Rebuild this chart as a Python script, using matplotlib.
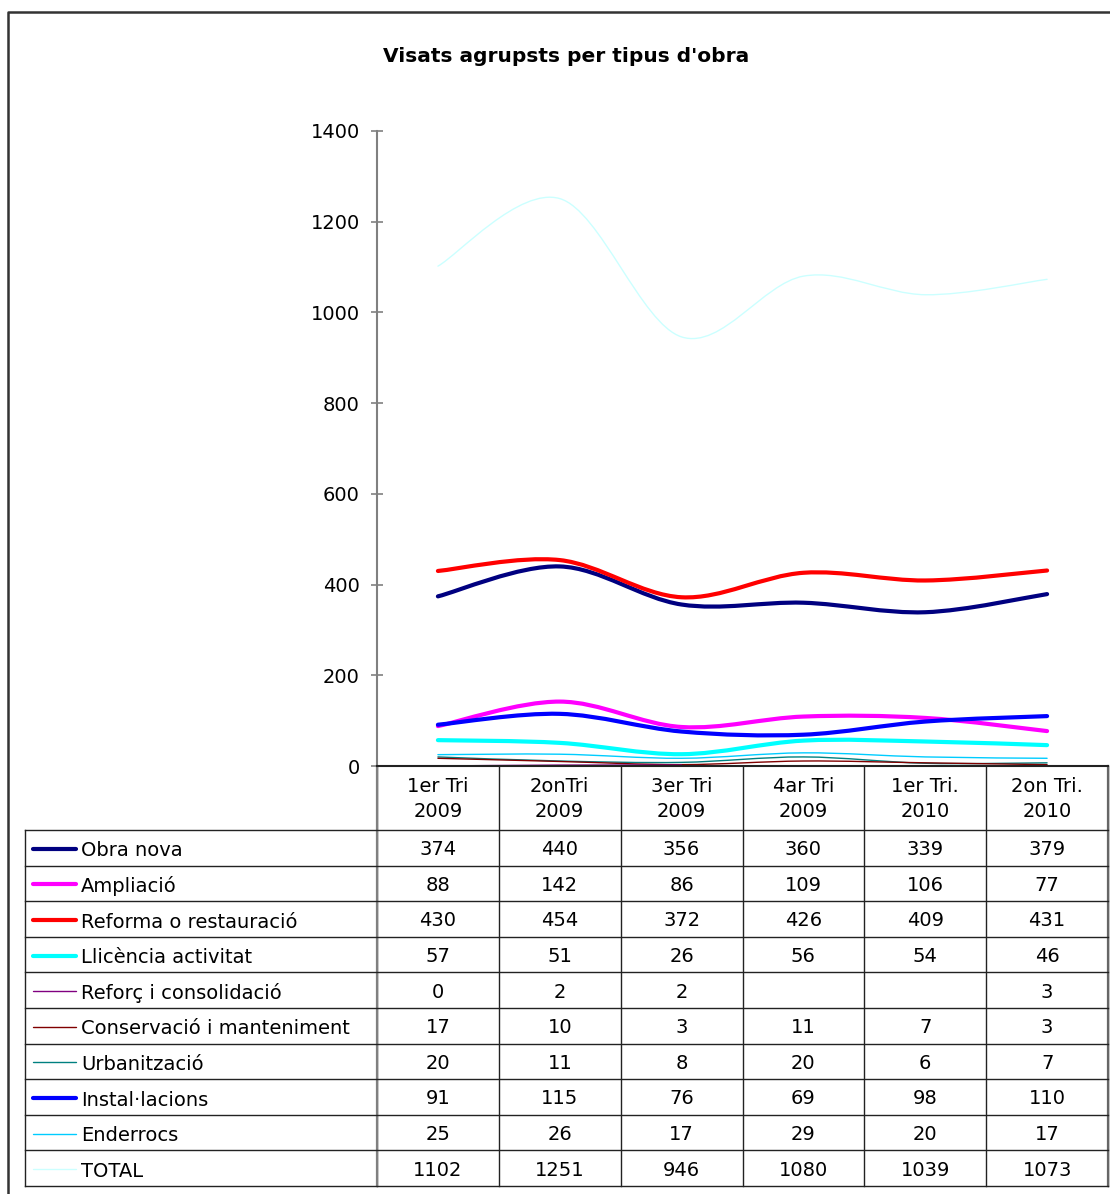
import numpy as np
import matplotlib
matplotlib.use("Agg")
import matplotlib.pyplot as plt
from matplotlib.path import Path
from matplotlib.patches import PathPatch

plt.rcParams['font.family'] = ['DejaVu Sans']

title = "Visats agrupsts per tipus d'obra"
categories = ["1er Tri\n2009", "2onTri\n2009", "3er Tri\n2009", "4ar Tri\n2009", "1er Tri.\n2010", "2on Tri.\n2010"]

series_names = ["Obra nova", "Ampliació", "Reforma o restauració", "Llicència activitat",
                "Reforç i consolidació", "Conservació i manteniment", "Urbanització",
                "Instal·lacions", "Enderrocs", "TOTAL"]

obra_nova = [374, 440, 356, 360, 339, 379]
ampliacio = [88, 142, 86, 109, 106, 77]
reforma = [430, 454, 372, 426, 409, 431]
llicencia = [57, 51, 26, 56, 54, 46]
reforc = [0, 2, 2, None, None, 3]
conservacio = [17, 10, 3, 11, 7, 3]
urbanitzacio = [20, 11, 8, 20, 6, 7]
installacions = [91, 115, 76, 69, 98, 110]
enderrocs = [25, 26, 17, 29, 20, 17]
total = [1102, 1251, 946, 1080, 1039, 1073]

series_values = [obra_nova, ampliacio, reforma, llicencia, reforc, conservacio,
                 urbanitzacio, installacions, enderrocs, total]
colors = ["#000080", "#FF00FF", "#FF0000", "#00FFFF", "#800080", "#800000",
          "#008080", "#0000FF", "#00CCFF", "#CCFFFF"]
thick = [True, True, True, True, False, False, False, True, False, False]

yticks = [0, 200, 400, 600, 800, 1000, 1200, 1400]

W, H = 1110, 1194
FS = 14
fig = plt.figure(figsize=(W / 100, H / 100), dpi=100)

# pixel layout
ax_l, ax_r, ax_t, ax_b = 377, 1108, 131, 766
ax = fig.add_axes([ax_l / W, 1 - ax_b / H, (ax_r - ax_l) / W, (ax_b - ax_t) / H])
ax.set_xlim(-0.5, len(categories) - 0.5)
ax.set_ylim(0, 1400)
ax.set_yticks(yticks)
ax.set_yticklabels([str(v) for v in yticks], fontsize=FS)
ax.set_xticks([])
for s in ["top", "right"]:
    ax.spines[s].set_visible(False)
ax.spines["left"].set_color("#808080")
ax.spines["left"].set_linewidth(1.5)
ax.spines["bottom"].set_color("#222222")
ax.spines["bottom"].set_linewidth(1.5)
ax.tick_params(axis="y", direction="inout", length=9, width=1.2, color="#808080", pad=8)
ax.patch.set_alpha(0)


def smooth_segments(vals):
    segs, cur = [], []
    for i, v in enumerate(vals):
        if v is None:
            if cur:
                segs.append(cur)
            cur = []
        else:
            cur.append((i, v))
    if cur:
        segs.append(cur)
    return segs


def bezier_path(pts):
    pts = np.array(pts, dtype=float)
    n = len(pts)
    verts = [tuple(pts[0])]
    codes = [Path.MOVETO]
    for i in range(n - 1):
        p0 = pts[i - 1] if i > 0 else pts[i]
        p1 = pts[i]
        p2 = pts[i + 1]
        p3 = pts[i + 2] if i + 2 < n else pts[i + 1]
        c1 = p1 + (p2 - p0) / 6.0
        c2 = p2 - (p3 - p1) / 6.0
        verts += [tuple(c1), tuple(c2), tuple(p2)]
        codes += [Path.CURVE4] * 3
    return Path(verts, codes)


order = [9, 8, 6, 5, 4, 3, 1, 7, 0, 2]
for k in order:
    vals = series_values[k]
    lw = 3.0 if thick[k] else 1.0
    for seg in smooth_segments(vals):
        if len(seg) < 2:
            continue
        p = bezier_path(seg)
        ax.add_patch(PathPatch(p, facecolor="none", edgecolor=colors[k], lw=lw,
                               capstyle="round", joinstyle="round", clip_on=False))

# overlay in pixel coordinates for frame, title and data table
ov = fig.add_axes([0, 0, 1, 1], zorder=-1)
ov.set_xlim(0, W)
ov.set_ylim(H, 0)
ov.axis("off")

# outer chart border
ov.plot([8, 8, W + 5], [H + 5, 12, 12], color="#333333", lw=1.8)

ov.text(566, 56, title, ha="center", va="center", fontsize=14.5, fontweight="bold")

col_edges = [377 + i * (1108 - 377) / 6 for i in range(7)]
row_top = 830
row_h = (1186 - 830) / 10
tab_left = 25
tab_right = 1108

# header columns
for x in col_edges:
    ov.plot([x, x], [ax_b, 1186], color="#222222", lw=1.0)
ov.plot([col_edges[0], col_edges[0]], [ax_b, 1186], color="#808080", lw=1.6)
ov.plot([tab_right, tab_right], [ax_b, 1186], color="#666666", lw=1.6)
for i, cat in enumerate(categories):
    cx = (col_edges[i] + col_edges[i + 1]) / 2
    ov.text(cx, (ax_b + row_top) / 2 + 1, cat, ha="center", va="center",
            fontsize=FS, linespacing=1.45)

# rows
for r in range(11):
    y = row_top + r * row_h
    ov.plot([tab_left, tab_right], [y, y], color="#222222", lw=1.0)
ov.plot([tab_left, tab_left], [row_top, 1186], color="#222222", lw=1.0)

for r, name in enumerate(series_names):
    yc = row_top + (r + 0.5) * row_h
    lw = 3.0 if thick[r] else 1.0
    ov.plot([33, 76], [yc + 1, yc + 1], color=colors[r], lw=lw, solid_capstyle="round")
    ov.text(81, yc + 3, name, ha="left", va="center", fontsize=FS)
    for i, v in enumerate(series_values[r]):
        cx = (col_edges[i] + col_edges[i + 1]) / 2
        ov.text(cx, yc + 2, "" if v is None else str(v), ha="center", va="center", fontsize=FS)

fig.savefig("out.png", dpi=100)
